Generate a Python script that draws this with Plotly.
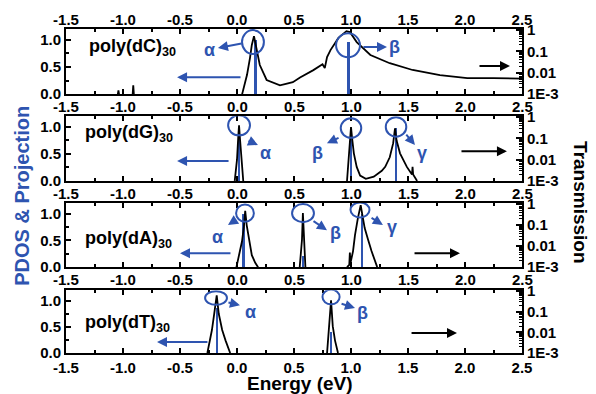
import plotly.graph_objects as go

# ---------------- data ----------------
energy_ticks = [-1.5, -1.0, -0.5, 0.0, 0.5, 1.0, 1.5, 2.0, 2.5]
trans_ticks = [0.001, 0.01, 0.1, 1]
trans_tick_text = ["1E-3", "0.01", "0.1", "1"]
pdos_ticks = [0.0, 0.5, 1.0]

panel_names = ["poly(dC)", "poly(dG)", "poly(dA)", "poly(dT)"]

trans_dC_E = [-1.045, -1.04, -1.035, None, -0.915, -0.91, -0.905, None,
              0.045, 0.07, 0.088, 0.114, 0.13, 0.149, 0.16, 0.175, 0.20, 0.26, 0.377, 0.49,
              0.553, 0.67, 0.75, 0.77, 0.79, 0.82, 0.89, 0.96, 0.99, 1.05, 1.17, 1.34, 1.54,
              1.78, 2.02, 2.25, 2.5]
trans_dC_T = [0.001, 0.0015, 0.001, None, 0.001, 0.0026, 0.001, None,
              0.001, 0.003, 0.008, 0.05, 0.2, 0.52, 0.25, 0.093, 0.023, 0.0046, 0.0026, 0.0036,
              0.006, 0.0133, 0.025, 0.0166, 0.054, 0.115, 0.43, 0.89, 0.81, 0.275, 0.068, 0.028,
              0.0135, 0.0078, 0.0056, 0.0056, 0.0053]

trans_dG_E = [-0.02, 0.0, 0.012, 0.018, 0.026, 0.04, 0.055, None,
              0.965, 0.985, 0.995, 1.0, 1.01, 1.025, 1.05, 1.08, 1.13, 1.2, 1.27, 1.30, 1.34,
              1.37, 1.386, 1.40, 1.43, 1.49, 1.535, 1.54, 1.545, 1.58]
trans_dG_T = [0.001, 0.01, 0.15, 0.42, 0.1, 0.008, 0.001, None,
              0.001, 0.02, 0.2, 0.34, 0.1, 0.02, 0.0046, 0.0018, 0.00125, 0.0016, 0.003, 0.0046,
              0.013, 0.06, 0.3, 0.08, 0.02, 0.0046, 0.002, 0.0046, 0.002, 0.001]

trans_dA_E = [-0.005, 0.02, 0.044, 0.06, 0.072, 0.085, 0.097, 0.11, 0.13, 0.16, 0.185, None,
              0.55, 0.57, 0.578, 0.586, 0.60, None,
              0.965, 0.985, 0.99, 0.995, 1.018, 1.035, 1.06, 1.085, 1.10, 1.12, 1.15, 1.18, 1.23]
trans_dA_T = [0.001, 0.004, 0.017, 0.08, 0.47, 0.1, 0.042, 0.02, 0.0037, 0.0016, 0.001, None,
              0.001, 0.02, 0.37, 0.02, 0.001, None,
              0.001, 0.0013, 0.005, 0.0015, 0.0058, 0.033, 0.21, 0.89, 0.3, 0.072, 0.02, 0.0058, 0.001]

trans_dT_E = [-0.26, -0.24, -0.22, -0.2, -0.178, -0.16, -0.13, -0.1, -0.06, None,
              0.79, 0.81, 0.825, 0.84, 0.86, 0.886]
trans_dT_T = [0.001, 0.003, 0.013, 0.08, 0.63, 0.08, 0.013, 0.004, 0.001, None,
              0.001, 0.02, 0.36, 0.02, 0.004, 0.001]

proj_dC_E = [0.165, 0.98]
proj_dC_H = [1.0, 0.96]
proj_dG_E = [0.018, 1.0, 1.395]
proj_dG_H = [0.98, 0.98, 0.98]
proj_dA_E = [0.06, 0.58, 1.097]
proj_dA_H = [1.0, 0.2, 1.0]
proj_dT_E = [-0.178, 0.825]
proj_dT_H = [0.85, 0.4]

peak_labels_dC = ["α", "β"]
peak_labels_dG = ["α", "β", "γ"]
peak_labels_dA = ["α", "β", "γ"]
peak_labels_dT = ["α", "β"]

# ---------------- style / layout config ----------------
BLUE = "#2e54b0"
FONT = "Liberation Sans, Arial, sans-serif"
domains = [[0.799, 1.0], [0.531, 0.731], [0.265, 0.463], [0.0, 0.194]]
bar_widths = [0.026, 0.016, 0.016, 0.018]

trans_E = [trans_dC_E, trans_dG_E, trans_dA_E, trans_dT_E]
trans_T = [trans_dC_T, trans_dG_T, trans_dA_T, trans_dT_T]
proj_E = [proj_dC_E, proj_dG_E, proj_dA_E, proj_dT_E]
proj_H = [proj_dC_H, proj_dG_H, proj_dA_H, proj_dT_H]
peak_labels = [peak_labels_dC, peak_labels_dG, peak_labels_dA, peak_labels_dT]

circles = [
    [(0.140, 0.96, 0.096, 0.22), (0.974, 0.90, 0.105, 0.22)],
    [(0.018, 1.03, 0.096, 0.185), (1.0, 0.98, 0.09, 0.18), (1.395, 1.0, 0.09, 0.18)],
    [(0.070, 1.01, 0.078, 0.16), (0.579, 1.01, 0.096, 0.17), (1.079, 1.07, 0.083, 0.14)],
    [(-0.184, 1.05, 0.096, 0.13), (0.825, 1.07, 0.075, 0.14)],
]
peak_arrows = [
    [(0.053, 0.94, -0.167, 0.85), (1.096, 0.87, 1.316, 0.87)],
    [(0.088, 0.757, 0.184, 0.665), (0.904, 0.81, 0.789, 0.70), (1.474, 0.886, 1.561, 0.665)],
    [(0.0, 0.9, -0.079, 0.79), (0.658, 0.88, 0.789, 0.69), (1.167, 0.94, 1.28, 0.79)],
    [(-0.088, 0.97, 0.026, 0.91), (0.904, 0.95, 1.035, 0.86)],
]
peak_label_pos = [
    [(-0.237, 0.81), (1.385, 0.87)],
    [(0.254, 0.52), (0.71, 0.52), (1.623, 0.52)],
    [(-0.167, 0.56), (0.86, 0.64), (1.36, 0.75)],
    [(0.114, 0.78), (1.105, 0.76)],
]
blue_arrow = [(0.044, -0.526, 0.31), (-0.061, -0.526, 0.37), (-0.044, -0.5, 0.26), (-0.246, -0.702, 0.21)]
black_arrow = [(2.114, 2.395, 0.52), (1.956, 2.368, 0.55), (1.544, 1.956, 0.26), (1.518, 1.93, 0.38)]
name_pos = [(-1.316, 0.85), (-1.35, 0.886), (-1.35, 0.51), (-1.35, 0.57)]

minor_log = [m * d for d in [0.001, 0.01, 0.1] for m in range(2, 10)]
minor_x = [-1.25, -0.75, -0.25, 0.25, 0.75, 1.25, 1.75, 2.25]


def aid(prefix, k):
    return prefix if k == 1 else f"{prefix}{k}"


fig = go.Figure()
layout = {}
shapes = []
annotations = []

tickfont = dict(size=15, family=FONT, color="black", weight="bold")
xticktext = [f"{v:.1f}" for v in energy_ticks]

for i in range(4):
    xk = i + 1
    yL = 2 * i + 1          # base: left linear axis (PDOS & projection)
    yR = 2 * i + 2          # overlay: right log axis (transmission)
    xid, yLid, yRid = aid("x", xk), aid("y", yL), aid("y", yR)

    fig.add_trace(go.Bar(x=proj_E[i], y=proj_H[i], width=bar_widths[i],
                         marker=dict(color=BLUE, line=dict(width=0)),
                         xaxis=xid, yaxis=yLid, showlegend=False))
    fig.add_trace(go.Scatter(x=trans_E[i], y=trans_T[i], mode="lines",
                             line=dict(color="black", width=1.8),
                             xaxis=xid, yaxis=yRid, showlegend=False, connectgaps=False))

    layout[aid("xaxis", xk)] = dict(
        domain=[0, 1], anchor=yLid, range=[-1.5, 2.5],
        tickmode="array", tickvals=energy_ticks, ticktext=xticktext,
        showticklabels=(i == 3), ticklabeloverflow="allow",
        ticks="inside", ticklen=5, tickwidth=1.5, tickcolor="black",
        minor=dict(tickmode="array", tickvals=minor_x,
                   ticks="inside", ticklen=3, tickwidth=1.5, tickcolor="black"),
        showline=True, linewidth=2, linecolor="black", mirror="ticks",
        showgrid=False, zeroline=False, tickfont=tickfont)
    layout[aid("yaxis", yL)] = dict(
        domain=domains[i], anchor=xid, side="left", range=[0, 1.2],
        tickmode="array", tickvals=pdos_ticks, ticktext=[f"{v:.1f}" for v in pdos_ticks],
        ticks="inside", ticklen=5, tickwidth=1.5, tickcolor="black",
        minor=dict(tickmode="array", tickvals=[0.25, 0.75], ticks="inside", ticklen=3,
                   tickwidth=1.5, tickcolor="black"),
        showline=True, linewidth=2, linecolor="black",
        showgrid=False, zeroline=False, tickfont=tickfont)
    layout[aid("yaxis", yR)] = dict(
        overlaying=yLid, anchor=xid, side="right", type="log", range=[-3, 0.05],
        tickmode="array", tickvals=trans_ticks, ticktext=trans_tick_text,
        ticks="inside", ticklen=6, tickwidth=1.5, tickcolor="black",
        minor=dict(tickmode="array", tickvals=minor_log, ticks="inside", ticklen=3,
                   tickwidth=1, tickcolor="black"),
        showline=True, linewidth=2, linecolor="black",
        showgrid=False, zeroline=False, tickfont=tickfont)

    # energy tick labels under panels 1-3 (placed on the panel's own x scale)
    if i < 3:
        for val, txt in zip(energy_ticks, xticktext):
            annotations.append(dict(x=val, y=domains[i][0], xref=xid, yref="paper",
                                    text=txt, showarrow=False, xanchor="center",
                                    yanchor="top", yshift=-2,
                                    font=tickfont))

    for (cx, cy, rx, ry) in circles[i]:
        shapes.append(dict(type="circle", xref=xid, yref=yLid,
                           x0=cx - rx, x1=cx + rx, y0=cy - ry, y1=cy + ry,
                           line=dict(color=BLUE, width=2)))
    for (tx, ty, hx, hy) in peak_arrows[i]:
        annotations.append(dict(x=hx, y=hy, ax=tx, ay=ty, xref=xid, yref=yLid,
                                axref=xid, ayref=yLid, text="", showarrow=True,
                                arrowhead=2, arrowsize=1, arrowwidth=2, arrowcolor=BLUE))
    for lab, (lx, ly) in zip(peak_labels[i], peak_label_pos[i]):
        annotations.append(dict(x=lx, y=ly, xref=xid, yref=yLid, text=lab, showarrow=False,
                                xanchor="center", yanchor="middle",
                                font=dict(size=18, color=BLUE, family=FONT, weight="bold")))
    t, h, v = blue_arrow[i]
    annotations.append(dict(x=h, y=v, ax=t, ay=v, xref=xid, yref=yLid, axref=xid, ayref=yLid,
                            text="", showarrow=True, arrowhead=2, arrowsize=1, arrowwidth=2,
                            arrowcolor=BLUE))
    t, h, v = black_arrow[i]
    annotations.append(dict(x=h, y=v, ax=t, ay=v, xref=xid, yref=yLid, axref=xid, ayref=yLid,
                            text="", showarrow=True, arrowhead=2, arrowsize=1, arrowwidth=2,
                            arrowcolor="black"))
    nx, ny = name_pos[i]
    annotations.append(dict(x=nx, y=ny, xref=xid, yref=yLid, xanchor="left", yanchor="middle",
                            text=f"{panel_names[i]}<sub>30</sub>", showarrow=False,
                            font=dict(size=18, color="black", family=FONT, weight="bold")))

# top tick labels of the first panel
fig.add_trace(go.Scatter(x=[None], y=[None], xaxis="x5", yaxis="y", showlegend=False))
layout["xaxis5"] = dict(overlaying="x", anchor="y", side="top", range=[-1.5, 2.5],
                        tickmode="array", tickvals=energy_ticks, ticktext=xticktext,
                        ticks="", showline=False, showgrid=False, zeroline=False,
                        tickfont=tickfont)

annotations.append(dict(x=-0.0965, y=0.485, xref="paper", yref="paper", text="PDOS & Projection",
                        textangle=-90, showarrow=False, xanchor="center", yanchor="middle",
                        font=dict(size=20, color=BLUE, family=FONT, weight="bold")))
annotations.append(dict(x=1.127, y=0.463, xref="paper", yref="paper", text="Transmission",
                        textangle=90, showarrow=False, xanchor="center", yanchor="middle",
                        font=dict(size=19, color="black", family=FONT, weight="bold")))
annotations.append(dict(x=0.513, y=-0.093, xref="paper", yref="paper", text="Energy (eV)",
                        showarrow=False, xanchor="center", yanchor="middle",
                        font=dict(size=19, color="black", family=FONT, weight="bold")))

fig.update_layout(width=596, height=394, margin=dict(l=66, r=74, t=29, b=41),
                  paper_bgcolor="white", plot_bgcolor="white", showlegend=False,
                  bargap=0, shapes=shapes, annotations=annotations, **layout)

fig.write_html("out.html", config={"displayModeBar": False},
               post_script="document.body.style.margin='0px';")
